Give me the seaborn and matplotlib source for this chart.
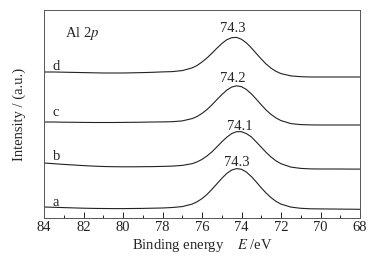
import numpy as np
import pandas as pd
import matplotlib
matplotlib.use('Agg')
import matplotlib.pyplot as plt
import seaborn as sns

# binding energy grid (eV), 84 -> 68, finer around the peak
energy = [84.0, 83.5, 83.0, 82.5, 82.0, 81.5, 81.0, 80.5, 80.0, 79.5, 79.0,
          78.5, 78.0, 77.5, 77.0, 76.5,
          76.25, 76.0, 75.75, 75.5, 75.25, 75.0, 74.75, 74.5, 74.25, 74.0,
          73.75, 73.5, 73.25, 73.0, 72.75, 72.5, 72.25,
          72.0, 71.5, 71.0, 70.5, 70.0, 69.5, 69.0, 68.5, 68.0]

# intensities (a.u., stacked)
curve_a = [11.0, 10.7, 10.4, 10.1, 9.8, 9.6, 9.5, 9.4, 9.4, 9.5, 9.6,
           9.8, 10.0, 10.5, 11.4, 13.9,
           16.2, 19.4, 23.5, 28.6, 34.1, 39.6, 44.5, 47.9, 49.4, 48.7,
           45.9, 41.4, 36.0, 30.2, 24.9, 20.3, 16.6,
           13.9, 10.9, 9.7, 9.2, 9.1, 9.0, 8.9, 8.8, 8.7]
curve_b = [55.0, 54.3, 53.6, 53.0, 52.4, 51.9, 51.5, 51.3, 51.2, 51.2, 51.3,
           51.4, 51.6, 51.9, 52.6, 54.3,
           56.1, 58.6, 62.0, 66.1, 71.0, 76.1, 80.7, 84.4, 86.3, 86.3,
           84.4, 81.1, 76.0, 70.8, 65.5, 60.9, 57.1,
           54.3, 50.9, 49.6, 49.1, 49.0, 49.0, 49.0, 48.9, 48.9]
curve_c = [96.0, 96.0, 95.8, 95.7, 95.6, 95.5, 95.5, 95.5, 95.6, 95.7, 95.8,
           96.0, 96.1, 96.3, 97.1, 99.4,
           101.5, 104.6, 108.4, 113.1, 118.3, 123.3, 127.8, 130.9, 132.2, 131.3,
           128.5, 124.1, 118.8, 113.2, 107.9, 103.5, 100.0,
           97.4, 94.4, 93.4, 93.1, 93.0, 93.0, 93.0, 93.0, 93.0]
curve_d = [146.0, 146.0, 145.8, 145.6, 145.4, 145.2, 145.0, 145.0, 145.0, 145.2, 145.4,
           145.7, 146.1, 146.4, 147.4, 150.1,
           152.5, 156.0, 160.0, 164.7, 169.7, 174.4, 178.2, 180.3, 180.6, 178.7,
           175.1, 170.1, 164.5, 159.0, 153.9, 149.8, 146.6,
           144.4, 142.1, 141.3, 141.0, 141.0, 141.0, 141.0, 141.0, 141.0]

sample_names = ['a', 'b', 'c', 'd']
peak_labels = ['74.3', '74.1', '74.2', '74.3']

df = pd.DataFrame({
    'energy': energy * 4,
    'intensity': curve_a + curve_b + curve_c + curve_d,
    'sample': np.repeat(sample_names, len(energy)),
})

sns.set_style('ticks')
plt.rcParams['font.family'] = ['Liberation Serif', 'DejaVu Serif']
plt.rcParams['mathtext.fontset'] = 'stix'

fs = 10.5
fig = plt.figure(figsize=(3.84, 2.57), dpi=100)
ax = fig.add_axes([44 / 384, 39 / 257, 316 / 384, 208 / 257])

sns.lineplot(data=df, x='energy', y='intensity', units='sample', estimator=None,
             color='#222222', linewidth=0.8, ax=ax, legend=False)

ax.set_xlim(84, 68)
ax.set_ylim(0, 208)
ax.set_xticks(np.arange(84, 67, -2))
ax.set_xticks(np.arange(83, 68, -2), minor=True)
ax.set_yticks([])
ax.tick_params(axis='x', which='major', direction='in', length=4, width=0.7,
               labelsize=fs, pad=2, colors='#222222')
ax.tick_params(axis='x', which='minor', direction='in', length=2.5, width=0.7,
               colors='#222222')
for s in ax.spines.values():
    s.set_linewidth(0.7)
    s.set_color('#555555')

ax.set_xlabel('Binding energy    $\\mathit{E}$ /eV', fontsize=fs, labelpad=2)
ax.set_ylabel('Intensity / (a.u.)', fontsize=fs, labelpad=13)

# curve letters and peak positions
letter_pos = [(83.4, 16), (83.34, 61), (83.4, 105), (83.4, 152)]
peak_pos = [(74.23, 56), (74.08, 92), (74.43, 139), (74.43, 189)]
for name, (lx, ly), lab, (px, py) in zip(sample_names, letter_pos, peak_labels, peak_pos):
    ax.text(lx, ly, name, fontsize=fs, ha='center', va='center')
    ax.text(px, py, lab, fontsize=fs, ha='center', va='center')

ax.text(82.94, 185, 'Al 2$\\mathit{p}$', fontsize=fs, ha='left', va='center')

fig.savefig('out.png', dpi=100)
